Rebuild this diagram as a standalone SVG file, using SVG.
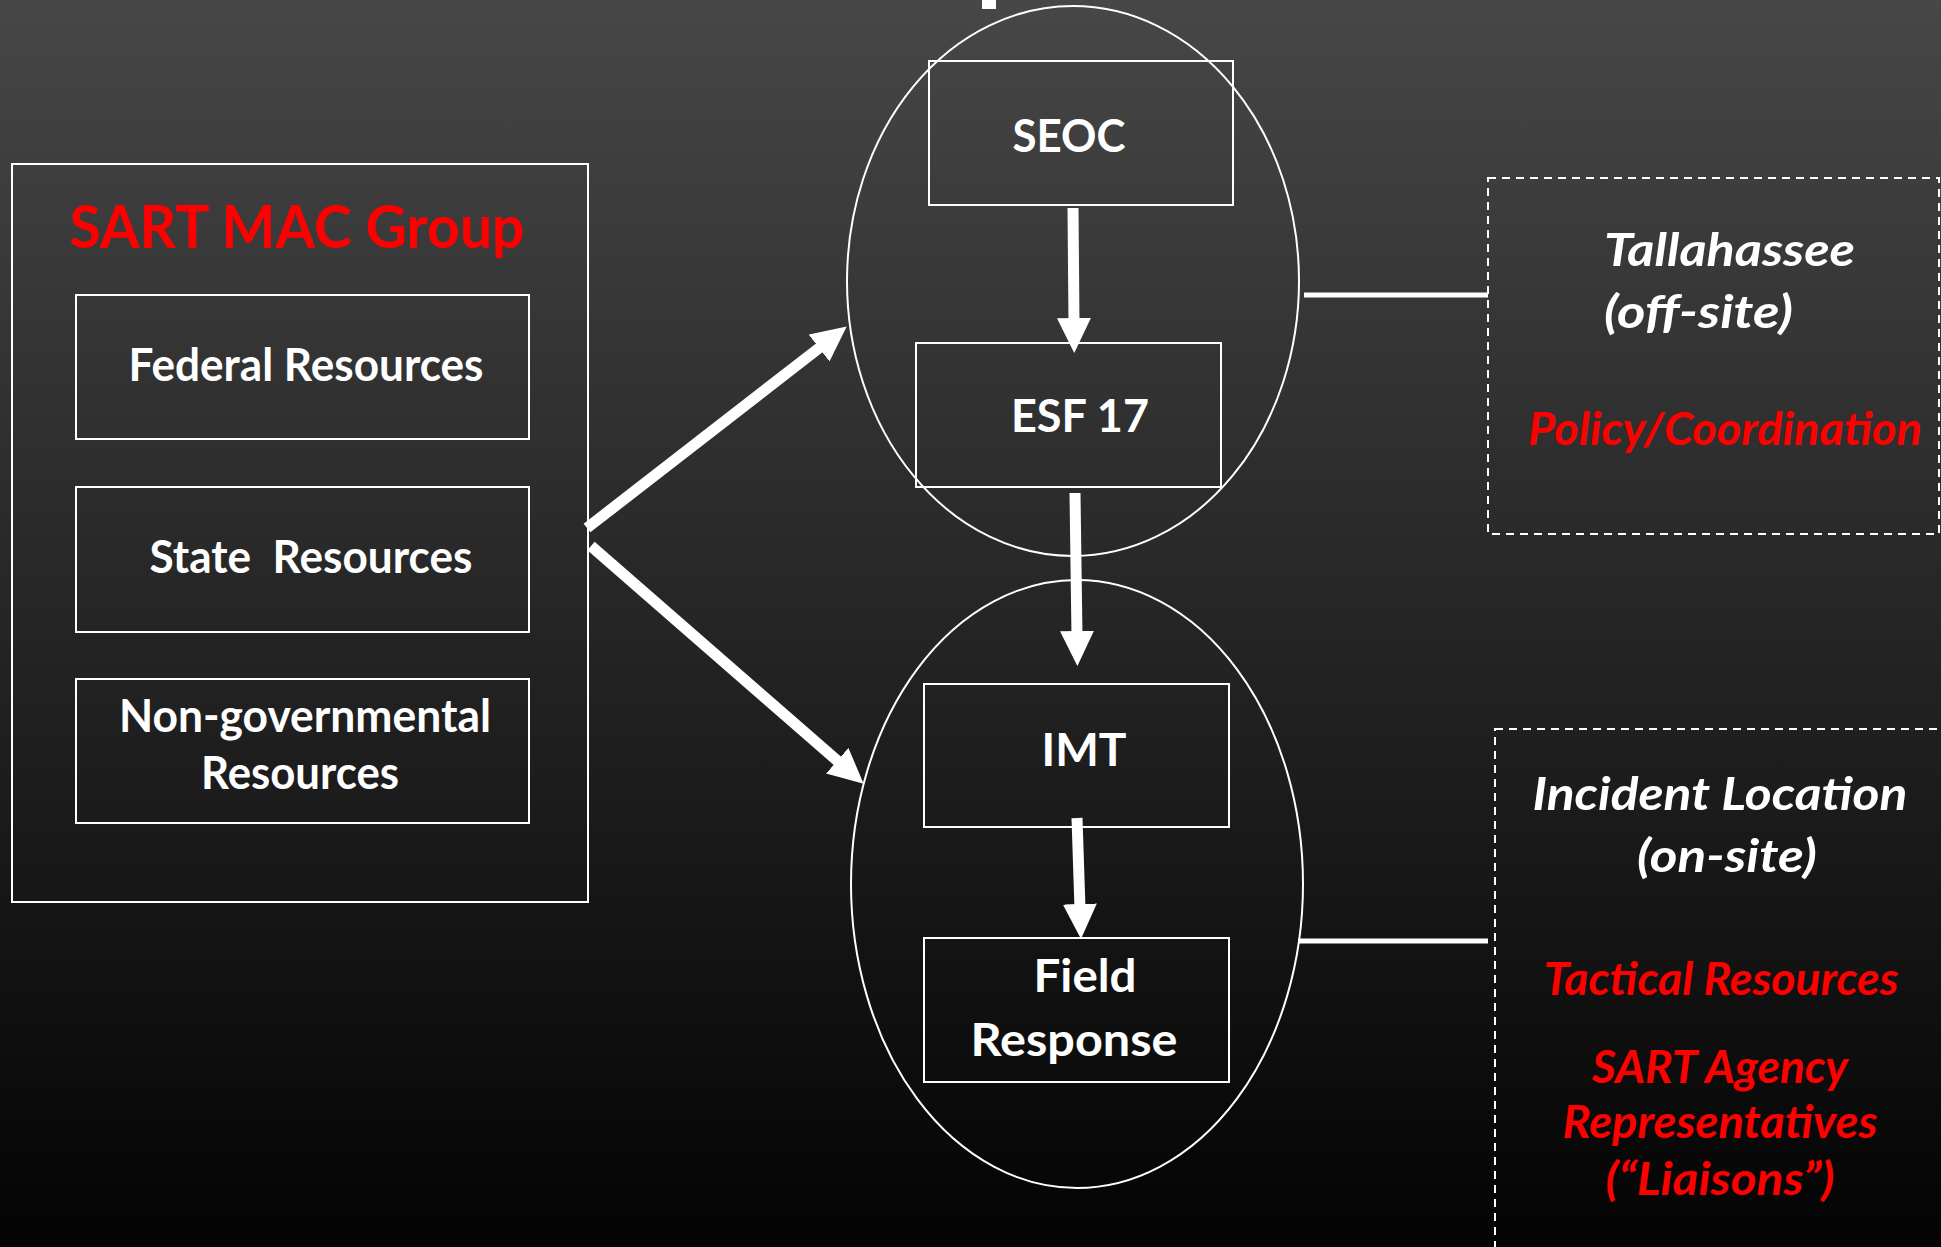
<svg xmlns="http://www.w3.org/2000/svg" width="1941" height="1247" viewBox="0 0 1941 1247">
<defs>
<linearGradient id="bg" x1="0" y1="0" x2="0" y2="1">
<stop offset="0" stop-color="#474747"/>
<stop offset="1" stop-color="#030303"/>
</linearGradient>
<marker id="ah" viewBox="0 0 35 34" markerUnits="userSpaceOnUse" markerWidth="35" markerHeight="34" refX="5" refY="17" orient="auto">
<path d="M0,0 L35,17 L0,34 z" fill="#ffffff"/>
</marker>
<style>
.box{fill:none;stroke:#ffffff;stroke-width:2}
.dash{fill:none;stroke:#ffffff;stroke-width:2;stroke-dasharray:8 6}
.t{font-family:"Lato","Open Sans","Liberation Sans",sans-serif;font-weight:bold;fill:#ffffff;font-size:46px}
.big{font-size:60px}
.r{fill:#ff0000}
.i{font-style:italic}
.arrow{stroke:#ffffff;stroke-width:11;fill:none;marker-end:url(#ah)}
.link{stroke:#ffffff;stroke-width:5;fill:none}
</style>
</defs>
<rect x="0" y="0" width="1941" height="1247" fill="url(#bg)"/>
<rect x="982" y="0" width="14" height="9" fill="#ffffff"/>

<g id="sart-mac-group">
<rect class="box" x="12" y="164" width="576" height="738"/>
<text class="t big r" x="297" y="248" text-anchor="middle" textLength="455" lengthAdjust="spacingAndGlyphs">SART MAC Group</text>
</g>
<g id="federal">
<rect class="box" x="76" y="295" width="453" height="144"/>
<text class="t" x="306" y="381" text-anchor="middle" textLength="355" lengthAdjust="spacingAndGlyphs">Federal Resources</text>
</g>
<g id="state">
<rect class="box" x="76" y="487" width="453" height="145"/>
<text class="t" x="311" y="573" text-anchor="middle" textLength="323" lengthAdjust="spacingAndGlyphs" xml:space="preserve">State  Resources</text>
</g>
<g id="nongov">
<rect class="box" x="76" y="679" width="453" height="144"/>
<text class="t" x="305" y="732" text-anchor="middle" textLength="372" lengthAdjust="spacingAndGlyphs">Non-governmental</text>
<text class="t" x="300" y="789" text-anchor="middle" textLength="198" lengthAdjust="spacingAndGlyphs">Resources</text>
</g>

<g id="offsite-ellipse">
<ellipse class="box" cx="1073" cy="281" rx="226" ry="275"/>
</g>
<g id="seoc">
<rect class="box" x="929" y="61" width="304" height="144"/>
<text class="t" x="1069" y="152" text-anchor="middle" textLength="113" lengthAdjust="spacingAndGlyphs">SEOC</text>
</g>
<g id="esf17">
<rect class="box" x="916" y="343" width="305" height="144"/>
<text class="t" x="1080" y="432" text-anchor="middle" textLength="138" lengthAdjust="spacingAndGlyphs">ESF 17</text>
</g>

<g id="onsite-ellipse">
<ellipse class="box" cx="1077" cy="884" rx="226" ry="304"/>
</g>
<g id="imt">
<rect class="box" x="924" y="684" width="305" height="143"/>
<text class="t" x="1084" y="766" text-anchor="middle" textLength="85" lengthAdjust="spacingAndGlyphs">IMT</text>
</g>
<g id="field">
<rect class="box" x="924" y="938" width="305" height="144"/>
<text class="t" x="1085" y="992" text-anchor="middle" textLength="103" lengthAdjust="spacingAndGlyphs">Field</text>
<text class="t" x="1074" y="1056" text-anchor="middle" textLength="207" lengthAdjust="spacingAndGlyphs">Response</text>
</g>

<g id="tallahassee">
<rect class="dash" x="1488" y="178" width="451" height="356"/>
<text class="t i" x="1604" y="266" textLength="251" lengthAdjust="spacingAndGlyphs">Tallahassee</text>
<text class="t i" x="1604" y="328" textLength="189" lengthAdjust="spacingAndGlyphs">(off-site)</text>
<text class="t i r" x="1528" y="445" textLength="394" lengthAdjust="spacingAndGlyphs">Policy/Coordination</text>
</g>
<g id="incident-location">
<rect class="dash" x="1495" y="729" width="455" height="540"/>
<text class="t i" x="1720" y="810" text-anchor="middle" textLength="375" lengthAdjust="spacingAndGlyphs">Incident Location</text>
<text class="t i" x="1727" y="872" text-anchor="middle" textLength="180" lengthAdjust="spacingAndGlyphs">(on-site)</text>
<text class="t i r" x="1721" y="995" text-anchor="middle" textLength="355" lengthAdjust="spacingAndGlyphs">Tactical Resources</text>
<text class="t i r" x="1720" y="1083" text-anchor="middle" textLength="256" lengthAdjust="spacingAndGlyphs">SART Agency</text>
<text class="t i r" x="1720" y="1138" text-anchor="middle" textLength="315" lengthAdjust="spacingAndGlyphs">Representatives</text>
<text class="t i r" x="1720" y="1195" text-anchor="middle" textLength="229" lengthAdjust="spacingAndGlyphs">(“Liaisons”)</text>
</g>

<g id="connectors">
<line class="arrow" x1="587" y1="528" x2="823" y2="345"/>
<line class="arrow" x1="591" y1="546" x2="841" y2="764"/>
<line class="arrow" x1="1073" y1="208" x2="1074" y2="323"/>
<line class="arrow" x1="1075" y1="493" x2="1077" y2="636"/>
<line class="arrow" x1="1077" y1="818" x2="1080" y2="909"/>
<line class="link" x1="1304" y1="295" x2="1488" y2="295"/>
<line class="link" x1="1298" y1="941" x2="1488" y2="941"/>
</g>
</svg>
